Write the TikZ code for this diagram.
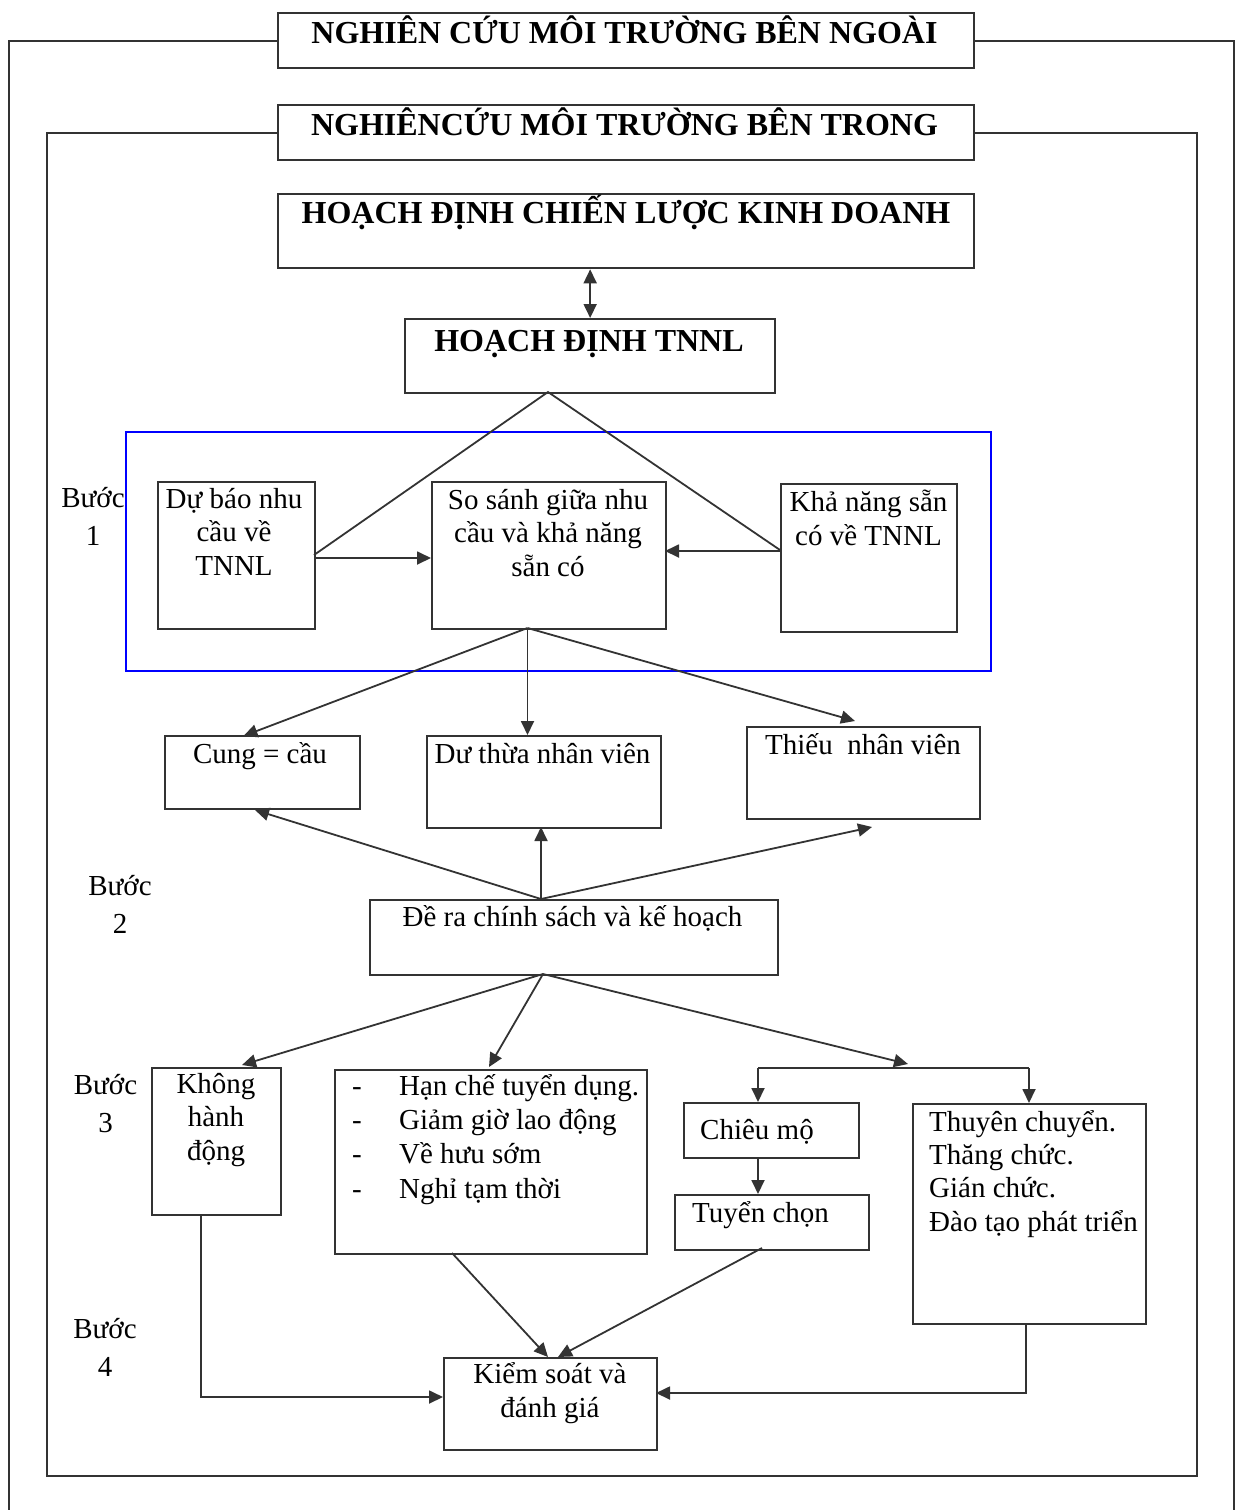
\documentclass[tikz,border=0pt]{standalone}
\usepackage{fontspec}
\setmainfont{Liberation Serif}
\usetikzlibrary{arrows.meta}
\definecolor{lc}{HTML}{333333}
\definecolor{bl}{HTML}{0000FF}
\newcommand{\mkbox}[5]{\node[box,anchor=north west,minimum width={(#4-#2)*1pt},minimum height={(#5-#3)*1pt}] (#1) at (#2,#3) {};}
\begin{document}
\begin{tikzpicture}[x=1pt,y=-1pt,
  box/.style={draw=lc,line width=2.3pt,rectangle,inner sep=0pt,fill=none},
  txt/.style={font=\fontsize{29}{33.3}\selectfont,inner sep=0pt,align=center,anchor=base},
  ltxt/.style={font=\fontsize{29}{33.3}\selectfont,inner sep=0pt,align=left,anchor=base west},
  ttl/.style={font=\fontsize{32}{36}\selectfont\bfseries,inner sep=0pt,anchor=base},
  step lbl/.style={font=\fontsize{29}{38}\selectfont,inner sep=0pt,align=center,anchor=base},
  conn/.style={draw=lc,line width=1.8pt},
  arr/.style={conn,-{Triangle[length=14pt,width=13pt]}},
  frame/.style={draw=lc,line width=2.1pt}]
\useasboundingbox (0,0) rectangle (1236,1510);

% boxes
\mkbox{b1}{277}{12}{973}{67}
\mkbox{b2}{277}{104}{973}{159}
\mkbox{b3}{277}{193}{973}{267}
\mkbox{b4}{404}{318}{774}{392}
\mkbox{b5}{157}{481}{314}{628}
\mkbox{b6}{431}{481}{665}{628}
\mkbox{b7}{780}{483}{956}{631}
\mkbox{c1}{164}{735}{359}{808}
\mkbox{c2}{426}{735}{660}{827}
\mkbox{c3}{746}{726}{979}{818}
\mkbox{dr}{369}{899}{777}{974}
\mkbox{k1}{151}{1067}{280}{1214}
\mkbox{k2}{334}{1069}{646}{1253}
\mkbox{k3}{683}{1102}{858}{1157}
\mkbox{k4}{674}{1194}{868}{1249}
\mkbox{k5}{912}{1103}{1145}{1323}
\mkbox{ks}{443}{1357}{656}{1449}

% frames
\coordinate (o1) at (9,1510);
\coordinate (o2) at (1234,1510);
\draw[frame] (o1) |- (b1.west);
\draw[frame] (b1.east) -| (o2);
\coordinate (i1) at (47,1476);
\coordinate (i2) at (1197,1476);
\draw[frame] (b2.west) -| (i1) -- (i2) |- (b2.east);
\draw[draw=bl,line width=1.8pt] (126,432) rectangle (991,671);

% texts (multi-line nodes are placed at the baseline of their last line)
\node[ttl] (t1) at (624.5,43) {NGHIÊN CỨU MÔI TRƯỜNG BÊN NGOÀI};
\node[ttl] (t2) at (624.5,135) {NGHIÊNCỨU MÔI TRƯỜNG BÊN TRONG};
\node[ttl] (t3) at (626,223) {HOẠCH ĐỊNH CHIẾN LƯỢC KINH DOANH};
\node[ttl] (t4) at (589,351) {HOẠCH ĐỊNH TNNL};
\node[txt] (t5) at (234,575) {Dự báo nhu\\cầu về\\TNNL};
\node[txt] (t6) at (548,576) {So sánh giữa nhu\\cầu và khả năng\\sẵn có};
\node[txt] (t7) at (868.5,545) {Khả năng sẵn\\có về TNNL};
\node[txt] (tc1) at (260,763) {Cung = cầu};
\node[txt] (tc2) at (542.5,763) {Dư thừa nhân viên};
\node[txt] (tc3) at (863,754) {Thiếu\ \ nhân viên};
\node[txt] (tdr) at (572.5,926) {Đề ra chính sách và kế hoạch};
\node[txt] (tk1) at (216,1160) {Không\\hành\\động};
\node[ltxt,font=\fontsize{29}{34.3}\selectfont] (tk2) at (352,1198) {\makebox[47pt][l]{-}Hạn chế tuyển dụng.\\\makebox[47pt][l]{-}Giảm giờ lao động\\\makebox[47pt][l]{-}Về hưu sớm\\\makebox[47pt][l]{-}Nghỉ tạm thời};
\node[ltxt] (tk3) at (700,1139) {Chiêu mộ};
\node[ltxt] (tk4) at (692,1222) {Tuyển chọn};
\node[ltxt] (tk5) at (929,1231) {Thuyên chuyển.\\Thăng chức.\\Gián chức.\\Đào tạo phát triển};
\node[txt] (tks) at (550,1417) {Kiểm soát và\\đánh giá};
\node[step lbl] (s1) at (93,545) {Bước\\1};
\node[step lbl] (s2) at (120,933) {Bước\\2};
\node[step lbl] (s3) at (105.5,1132) {Bước\\3};
\node[step lbl] (s4) at (105,1376) {Bước\\4};

% connectors
\draw[conn,{Triangle[length=14pt,width=13pt]}-{Triangle[length=14pt,width=13pt]}] (b4.north |- b3.south) -- (b4.north);
\coordinate (ap) at (548,392);
\coordinate (p5) at (314,555);
\coordinate (p7) at (780,550);
\draw[conn] (p5) -- (ap) -- (p7);
\coordinate (a1s) at (314,558);
\coordinate (a1e) at (431,558);
\draw[arr] (a1s) -- (a1e);
\coordinate (a2s) at (780,551);
\coordinate (a2e) at (665,551);
\draw[arr] (a2s) -- (a2e);
\coordinate (q6) at (527.5,628);
\coordinate (qc1) at (243.5,736);
\coordinate (qc2) at (527.5,735);
\coordinate (qc3) at (855,721);
\draw[arr] (q6) -- (qc1);
\draw[arr] (q6) -- (qc2);
\draw[arr] (q6) -- (qc3);
\coordinate (qd) at (541,899);
\coordinate (rc1) at (255,810);
\coordinate (rc2) at (541,827);
\coordinate (rc3) at (872,827);
\draw[arr] (qd) -- (rc1);
\draw[arr] (qd) -- (rc2);
\draw[arr] (qd) -- (rc3);
\coordinate (qe) at (543,974);
\coordinate (rk1) at (242,1065);
\coordinate (rk2) at (489,1067);
\coordinate (rk3) at (908,1064);
\draw[arr] (qe) -- (rk1);
\draw[arr] (qe) -- (rk2);
\draw[arr] (qe) -- (rk3);
\coordinate (br1) at (758,1068);
\coordinate (br2) at (1029,1068);
\coordinate (bt1) at (758,1102);
\coordinate (bt2) at (1029,1103);
\draw[conn] (br1) -- (br2);
\draw[arr] (br1) -- (bt1);
\draw[arr] (br2) -- (bt2);
\coordinate (cm1) at (758,1157);
\coordinate (cm2) at (758,1194);
\draw[arr] (cm1) -- (cm2);
\coordinate (u1) at (201,1214);
\coordinate (u2) at (201,1397);
\coordinate (u3) at (443,1397);
\draw[arr] (u1) -- (u2) -- (u3);
\coordinate (v1) at (452,1253);
\coordinate (v2) at (548,1357);
\draw[arr] (v1) -- (v2);
\coordinate (w1) at (762,1248);
\coordinate (w2) at (558,1357);
\draw[arr] (w1) -- (w2);
\coordinate (x1) at (1026,1323);
\coordinate (x2) at (1026,1393);
\coordinate (x3) at (656,1393);
\draw[arr] (x1) -- (x2) -- (x3);
\end{tikzpicture}
\end{document}
